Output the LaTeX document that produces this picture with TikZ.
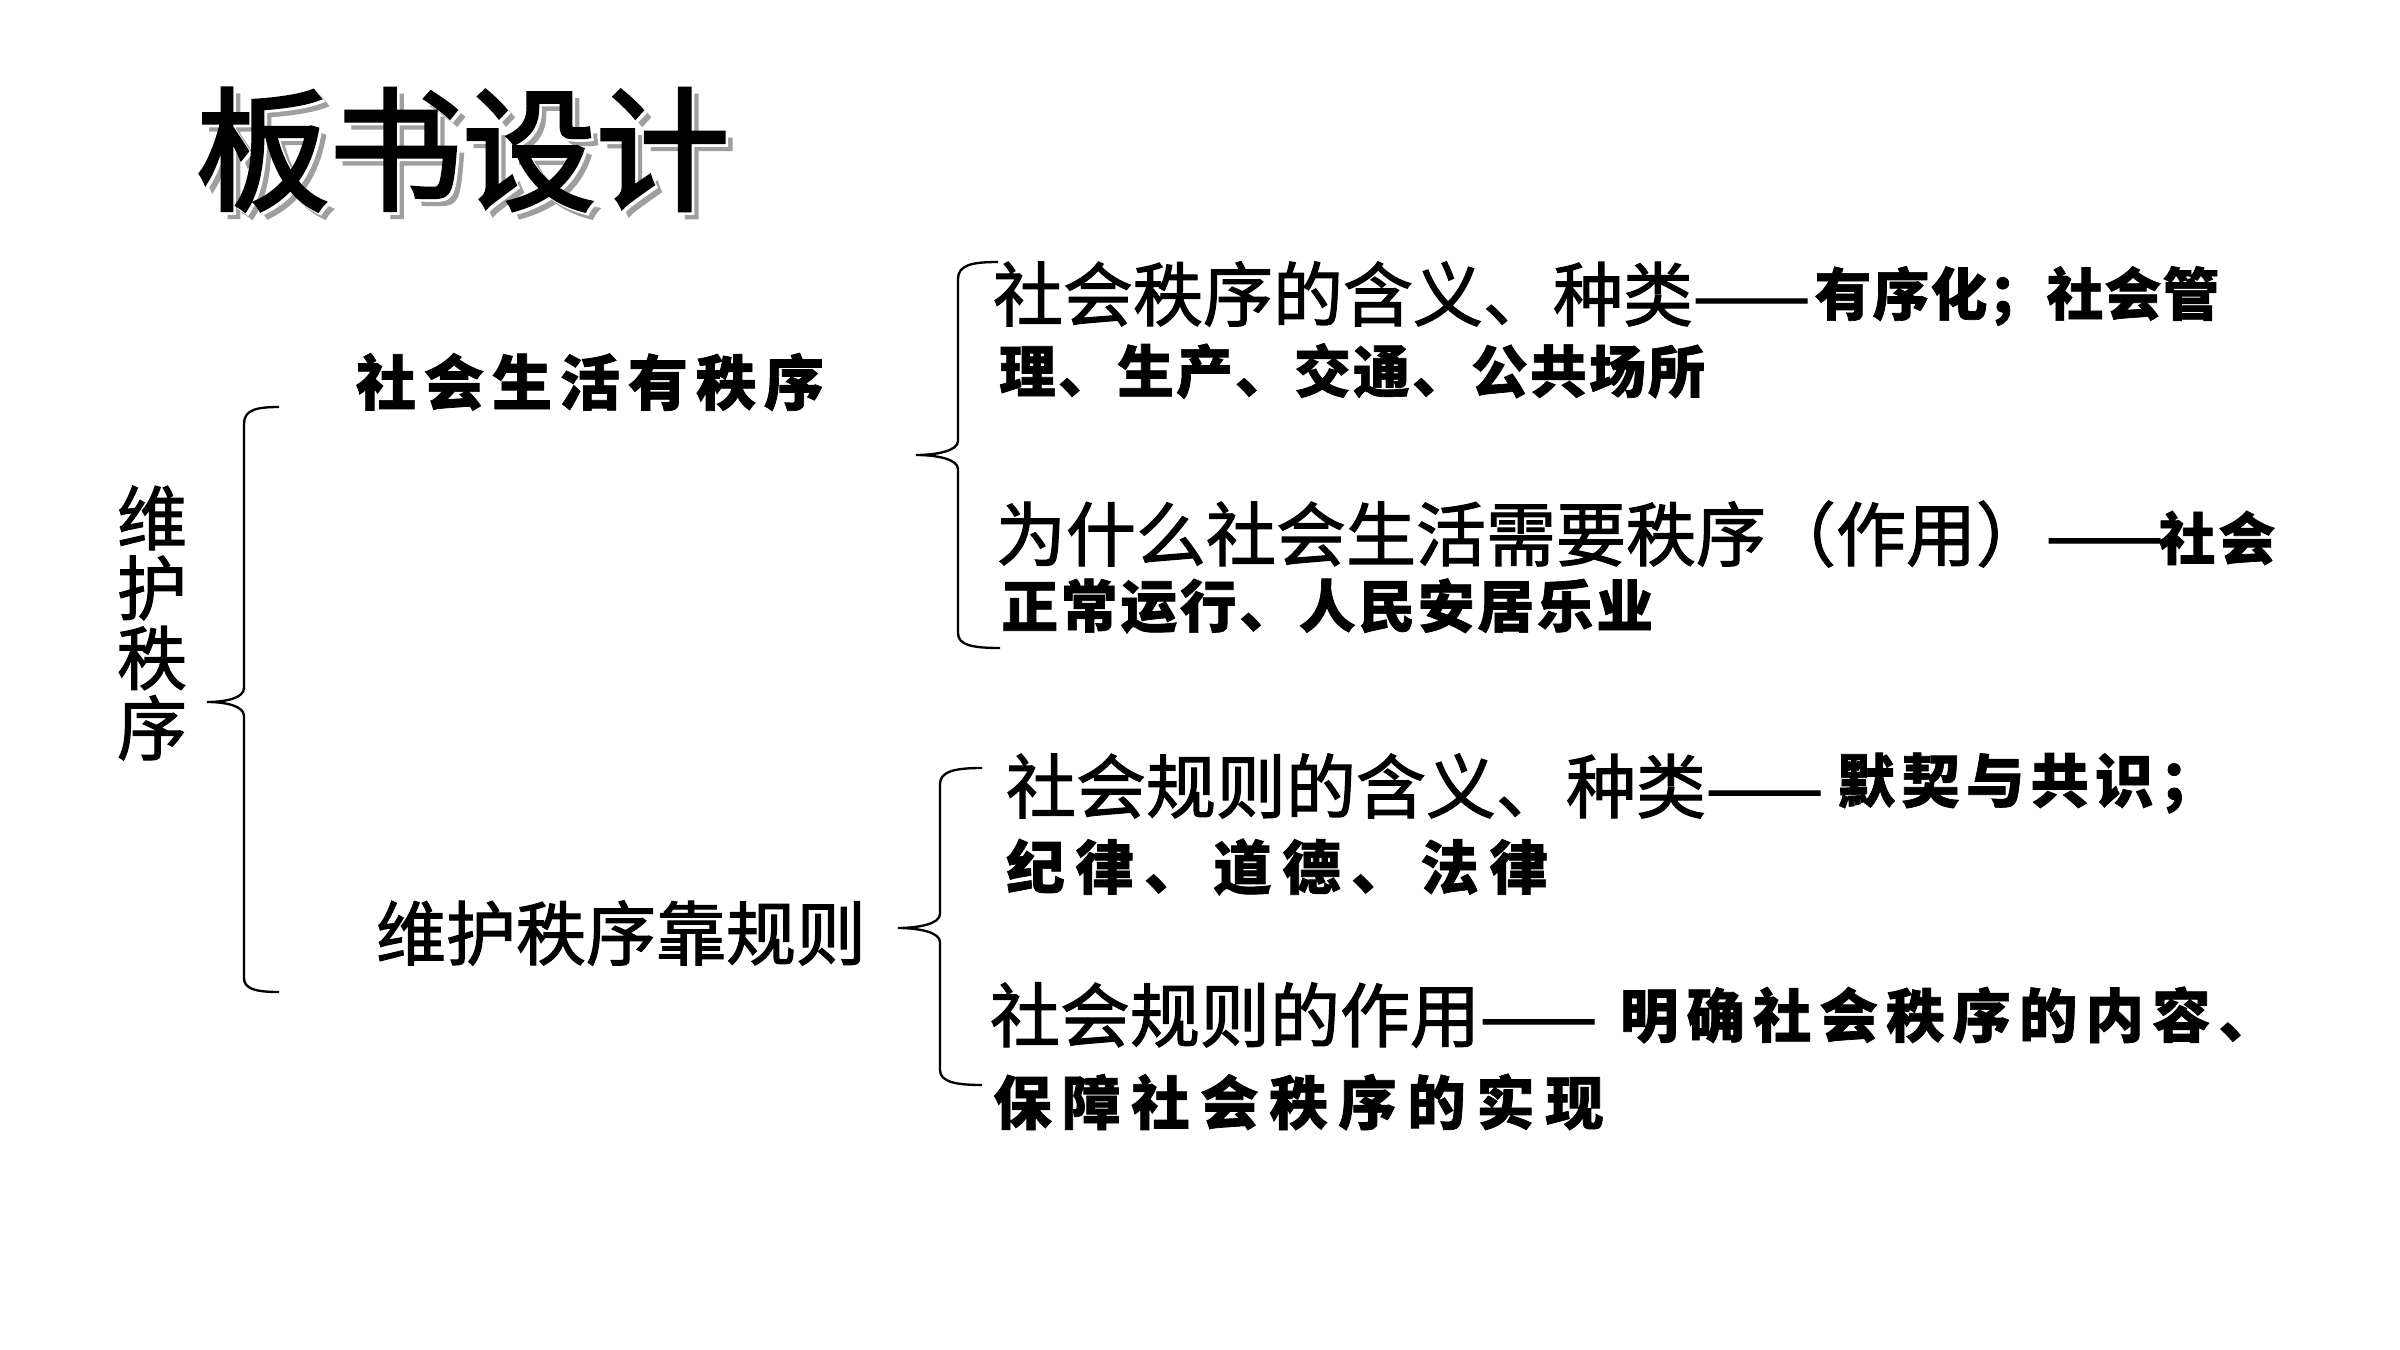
\documentclass[tikz,border=0pt]{standalone}
\usepackage{fontspec}
\setmainfont{Noto Sans CJK SC}
\newfontfamily\regf[FakeBold=1.6]{Noto Sans CJK SC}
\newfontfamily\calf[FakeBold=1.2]{Noto Sans CJK SC}
\newfontfamily\titf[FakeBold=2.5]{Noto Sans CJK SC}
\makeatletter
\newcommand\cspread[2]{\@tfor\csch:=#2\do{\makebox[#1][c]{\csch}}}
\makeatother
\newcommand\regtext[1]{\regf\fontsize{21pt}{24pt}\selectfont #1}
\newcommand\caltext[3]{\calf\bfseries\fontsize{#1}{#1}\selectfont\cspread{#2}{#3}}
\newcommand\shadowtitle[1]{\makebox[0pt][l]{\hspace{2.1pt}\raisebox{-2.1pt}{\textcolor{gray!75}{#1}}}\makebox[0pt][l]{\hspace{0.8pt}\raisebox{-0.8pt}{\textcolor{white}{#1}}}#1}
\begin{document}
\begin{tikzpicture}[x=0.3pt,y=-0.3pt,
  txt/.style={anchor=west,inner sep=0pt,outer sep=0pt},
  brace/.style={draw=black,line width=0.7pt}]
\useasboundingbox (0,0) rectangle (2400,1350);
\fill[white] (0,0) rectangle (2400,1350);
% title with shadow
\node[txt] (title) at (196,153) {\titf\fontsize{40pt}{44pt}\selectfont\shadowtitle{板书设计}};
% left column
\node[inner sep=0pt,align=center,font=\regf\fontsize{21pt}{21pt}\selectfont] (root) at (152,623) {维\\护\\秩\\序};
\node[txt] (life) at (352,382) {\caltext{18pt}{20.4pt}{社会生活有秩序}};
\node[txt] (rules) at (376,933) {\regtext{维护秩序靠规则}};
% upper group
\node[txt] (d1) at (993,294) {\regtext{社会秩序的含义、种类——}};
\node[txt] (d2) at (1814,296) {\caltext{17pt}{17.4pt}{有序化；社会管}};
\node[txt] (e) at (998,371) {\caltext{17pt}{17.7pt}{理、生产、交通、公共场所}};
\node[txt] (f1) at (996,534) {\regtext{为什么社会生活需要秩序（作用）——}};
\node[txt] (f2) at (2157,538) {\caltext{17pt}{18pt}{社会}};
\node[txt] (g) at (1000,606) {\caltext{17pt}{17.85pt}{正常运行、人民安居乐业}};
% lower group
\node[txt] (h1) at (1006,786) {\regtext{社会规则的含义、种类——}};
\node[txt] (h2) at (1834,783) {\caltext{17.5pt}{19.35pt}{默契与共识；}};
\node[txt] (i) at (1001,867) {\caltext{17.5pt}{20.7pt}{纪律、道德、法律}};
\node[txt] (j1) at (990,1015) {\regtext{社会规则的作用——}};
\node[txt] (j2) at (1616,1015) {\caltext{17.5pt}{19.95pt}{明确社会秩序的内容、}};
\node[txt] (k) at (988,1102) {\caltext{17.5pt}{20.7pt}{保障社会秩序的实现}};
% braces
\coordinate (tipL) at (207,702);
\coordinate (tipU) at (916,455);
\coordinate (tipD) at (898,928);
\draw[brace] (279,407) .. controls (256,407) and (244,410) .. (244,424) -- (244,688)
  .. controls (244,698) and (226,702) .. (tipL)
  .. controls (226,702) and (244,706) .. (244,716) -- (244,978)
  .. controls (244,989) and (256,992) .. (279,992);
\draw[brace] (998,262) .. controls (972,262) and (958,265) .. (958,279) -- (958,441)
  .. controls (958,451) and (936,455) .. (tipU)
  .. controls (936,455) and (958,459) .. (958,469) -- (958,633)
  .. controls (958,645) and (972,648) .. (1000,648);
\draw[brace] (982,768) .. controls (956,768) and (940,771) .. (940,784) -- (940,914)
  .. controls (940,924) and (918,928) .. (tipD)
  .. controls (918,928) and (940,932) .. (940,942) -- (940,1070)
  .. controls (940,1082) and (956,1085) .. (982,1085);
\end{tikzpicture}
\end{document}
